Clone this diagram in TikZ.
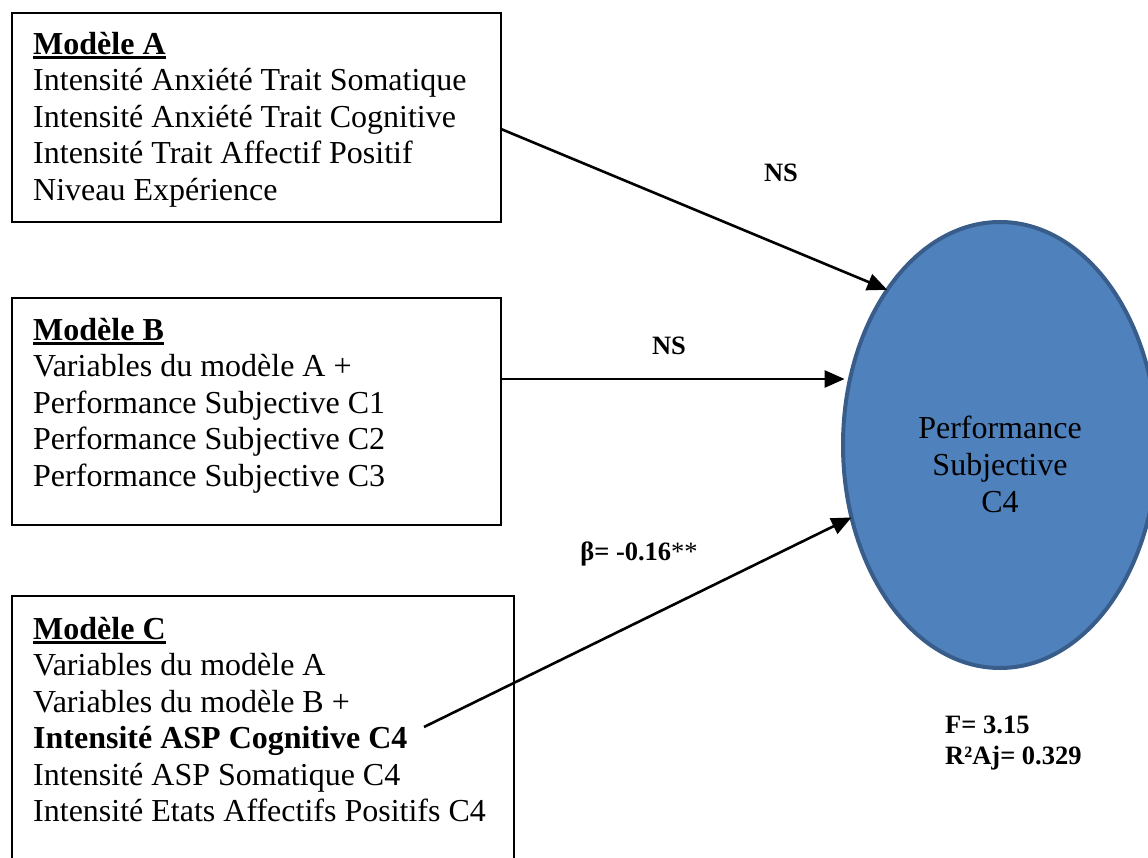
\documentclass[tikz,border=0pt]{standalone}
\usepackage{fontspec}
\setmainfont{Liberation Serif}
\usetikzlibrary{arrows.meta,shapes.geometric}
\definecolor{ellfill}{HTML}{4F81BD}
\definecolor{elldraw}{HTML}{385D8A}
\newcommand{\myul}[1]{\setbox0\hbox{#1}\rlap{\vrule height -2pt depth 4.5pt width \wd0}\box0}
\newcommand{\firststrut}{\rule{0pt}{24pt}}
\begin{document}
\begin{tikzpicture}[x=1pt,y=-1pt,
  box/.style={draw=black, line width=1.9pt, rectangle, anchor=north west, inner sep=0pt, outer sep=0pt},
  boxtext/.style={anchor=north west, align=left, inner sep=0pt, font=\fontsize{32}{36.5}\selectfont},
  lab/.style={font=\fontsize{26.5}{30.5}\selectfont\bfseries, inner sep=0pt},
  conn/.style={line width=2.6pt, -{Triangle[length=20pt,width=17pt]}},
  ell/.style={ellipse, fill=ellfill, draw=elldraw, line width=4pt, minimum width=314pt, minimum height=446pt, inner sep=0pt, outer sep=0pt}]
\clip (0,0) rectangle (1148,858);
% boxes
\node[box, minimum width=489pt, minimum height=209pt] (boxA) at (12,13) {};
\node[box, minimum width=489pt, minimum height=227pt] (boxB) at (12,298) {};
\node[box, minimum width=502pt, minimum height=320pt] (boxC) at (12,596) {};
% box texts
\node[boxtext] (txtA) at (33,30) {\firststrut\myul{\textbf{Modèle A}}\\
Intensité Anxiété Trait Somatique\\
Intensité Anxiété Trait Cognitive\\
Intensité Trait Affectif Positif\\
Niveau Expérience};
\node[boxtext] (txtB) at (33,316) {\firststrut\myul{\textbf{Modèle B}}\\
Variables du modèle A +\\
Performance Subjective C1\\
Performance Subjective C2\\
Performance Subjective C3};
\node[boxtext] (txtC) at (33,615) {\firststrut\myul{\textbf{Modèle C}}\\
Variables du modèle A\\
Variables du modèle B +\\
\textbf{Intensité ASP Cognitive C4}\\
Intensité ASP Somatique C4\\
Intensité Etats Affectifs Positifs C4};
% ellipse
\node[ell] (perf) at (1000,445) {};
\node[align=center, inner sep=0pt, font=\fontsize{32}{37}\selectfont] (perftxt) at (1000,464) {Performance\\Subjective\\C4};
% connector start points
\coordinate (sA) at ([yshift=-116pt]boxA.north east);
\coordinate (sB) at ([yshift=-81pt]boxB.north east);
\coordinate (sC) at (424,727);
\draw[conn] (sA) -- (perf.126.6);
\draw[conn, shorten >=5pt] (sB) -- (sB -| perf.157);
\draw[conn] (sC) -- (perf.206.3);
% labels
\node[lab] (nsA) at (781,173) {NS};
\node[lab] (nsB) at (669,346) {NS};
\node[lab] (beta) at (639,554) {β= -0.16\textnormal{**}};
\node[lab, anchor=west, align=left] (stats) at (945,743) {F= 3.15\\R²Aj= 0.329};
\end{tikzpicture}
\end{document}
